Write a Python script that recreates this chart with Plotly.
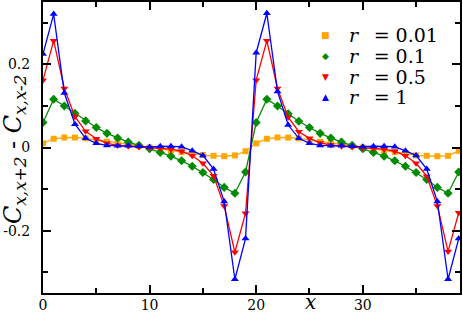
import plotly.graph_objects as go

# site index
x = list(range(40))

# C_{x,x+2} - C_{x,x-2}
r001 = [0.010, 0.021, 0.024, 0.024, 0.022, 0.018, 0.014, 0.011, 0.008, 0.004,
        0.000, -0.004, -0.008, -0.011, -0.014, -0.018, -0.020, -0.021, -0.019, -0.009,
        0.010, 0.021, 0.024, 0.024, 0.022, 0.018, 0.014, 0.011, 0.008, 0.004,
        0.000, -0.004, -0.008, -0.011, -0.014, -0.019, -0.020, -0.021, -0.020, -0.008]
r01 = [0.060, 0.116, 0.100, 0.082, 0.064, 0.048, 0.034, 0.023, 0.013, 0.005,
       -0.003, -0.012, -0.021, -0.032, -0.045, -0.060, -0.077, -0.096, -0.110, -0.059,
       0.060, 0.116, 0.100, 0.081, 0.063, 0.048, 0.034, 0.023, 0.013, 0.005,
       -0.003, -0.012, -0.021, -0.032, -0.045, -0.060, -0.077, -0.096, -0.110, -0.059]
r05 = [0.162, 0.257, 0.142, 0.074, 0.039, 0.021, 0.010, 0.005, 0.003, 0.001,
       -0.001, -0.002, -0.004, -0.009, -0.020, -0.038, -0.068, -0.141, -0.252, -0.158,
       0.162, 0.257, 0.142, 0.073, 0.038, 0.022, 0.011, 0.006, 0.003, 0.001,
       -0.001, -0.002, -0.004, -0.009, -0.020, -0.038, -0.069, -0.141, -0.250, -0.157]
r1 = [0.225, 0.321, 0.131, 0.056, 0.022, 0.010, 0.005, 0.004, 0.004, 0.003,
      0.001, 0.003, 0.003, 0.002, -0.008, -0.019, -0.052, -0.130, -0.317, -0.219,
      0.228, 0.323, 0.135, 0.054, 0.022, 0.010, 0.005, 0.004, 0.004, 0.003,
      0.002, 0.003, 0.003, 0.002, -0.008, -0.019, -0.052, -0.130, -0.317, -0.219]

names = ["0.01", "0.1", "0.5", "1"]
colors = ["rgb(255,165,0)", "rgb(0,139,0)", "rgb(255,0,0)", "rgb(0,0,255)"]
symbols = ["square", "diamond", "triangle-down", "triangle-up"]
glyphs = ["\u25a0", "\u25c6", "\u25bc", "\u25b2"]
sizes = [6, 7, 7, 7]

xticks = [0, 10, 20, 30]
yticks = [-0.2, 0, 0.2]
yticklabels = ["-0.2", "0", "0.2"]

serif = "DejaVu Serif"

fig = go.Figure()
for ys, c, s, sz in zip([r001, r01, r05, r1], colors, symbols, sizes):
    fig.add_trace(go.Scatter(x=x, y=ys, mode="lines+markers",
                             line=dict(color=c, width=1.3),
                             marker=dict(symbol=s, size=sz, color=c),
                             showlegend=False))

W, H = 463, 313
ml, mr, mt, mb = 43, 3, 2, 20
pw, ph = W - ml - mr, H - mt - mb

def px(xp):
    return (xp - ml) / pw

def py(yp):
    return (H - mb - yp) / ph

# legend drawn by hand (Grace style, tight rows)
rows = [34.7, 55.5, 76.5, 97]
for g, c, n, yr in zip(glyphs, colors, names, rows):
    fig.add_annotation(x=px(325), y=py(yr), xref="paper", yref="paper",
                       text=g, showarrow=False, xanchor="center", yanchor="middle",
                       font=dict(family="DejaVu Sans", size=9, color=c))
    fig.add_annotation(x=px(347), y=py(yr), xref="paper", yref="paper",
                       text="<i>r</i>\u2002 = " + n, showarrow=False,
                       xanchor="left", yanchor="middle",
                       font=dict(family=serif, size=19, color="black"))

# axis titles
fig.add_annotation(x=px(310), y=py(302), xref="paper", yref="paper",
                   text="<i>x</i>", showarrow=False, xanchor="center", yanchor="middle",
                   font=dict(family=serif, size=20, color="black"))
fig.add_annotation(x=px(14), y=py(150), xref="paper", yref="paper",
                   text="<i>C</i><sub><i>x,x+2</i></sub> - <i>C</i><sub><i>x,x-2</i></sub>",
                   textangle=-90, showarrow=False, xanchor="center", yanchor="middle",
                   font=dict(family=serif, size=24, color="black"))

axis_common = dict(showgrid=False, zeroline=False, showline=True, linecolor="black",
                   linewidth=2, mirror="allticks", ticks="inside", ticklen=8,
                   tickwidth=1.5, tickcolor="black", automargin=False,
                   tickfont=dict(family=serif, size=14, color="black"))

fig.update_xaxes(range=[0, 39.12], tickmode="array", tickvals=xticks,
                 ticklabelstandoff=-2,
                 minor=dict(dtick=5, tick0=0, ticks="inside", ticklen=5,
                            tickwidth=1.5, tickcolor="black"),
                 **axis_common)
fig.update_yaxes(range=[-0.35, 0.35], tickmode="array", tickvals=yticks,
                 ticktext=yticklabels, ticklabelstandoff=8,
                 minor=dict(dtick=0.1, tick0=0, ticks="inside", ticklen=5,
                            tickwidth=1.5, tickcolor="black"),
                 **axis_common)

fig.update_layout(width=W, height=H, margin=dict(l=ml, r=mr, t=mt, b=mb),
                  plot_bgcolor="white", paper_bgcolor="white", showlegend=False)

# page body has a default 8px margin; drop it so the figure sits at the corner
fig.write_html("out.html", config={"displayModeBar": False},
               post_script="document.body.style.margin='0';"
               "document.body.style.overflow='hidden';")
